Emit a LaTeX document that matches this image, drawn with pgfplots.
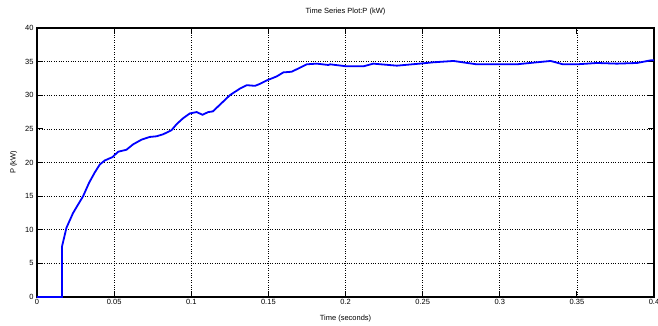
\documentclass[border=0pt]{standalone}
\usepackage{fontspec}
\setmainfont{Liberation Sans}
\usepackage{pgfplots}
\pgfplotsset{compat=1.18}
\begin{document}
\begin{tikzpicture}
\path[use as bounding box] (-37pt,-28pt) rectangle (621pt,297pt);
\begin{axis}[
  at={(0pt,0pt)}, anchor=south west,
  width=617pt, height=269pt, scale only axis,
  xmin=0, xmax=0.4, ymin=0, ymax=40,
  xtick={0,0.05,0.1,0.15,0.2,0.25,0.3,0.35,0.4},
  xticklabels={0,0.05,0.1,0.15,0.2,0.25,0.3,0.35,0.4},
  ytick={0,5,10,15,20,25,30,35,40},
  yticklabels={0,5,10,15,20,25,30,35,40},
  tick align=inside, major tick length=6pt,
  tick style={black, line width=1.2pt},
  axis line style={black, line width=1.2pt},
  grid=major, grid style={black, dotted, line width=0.6pt},
  ticklabel style={font=\fontsize{7.5}{8}\selectfont},
  xticklabel style={yshift=1pt},
  title={Time Series Plot:P (kW)},
  title style={font=\fontsize{7.5}{8}\selectfont, yshift=3pt},
  xlabel={Time (seconds)},
  xlabel style={font=\fontsize{7.5}{8}\selectfont, yshift=-3pt},
  ylabel={P (kW)},
  ylabel style={font=\fontsize{7.5}{8}\selectfont, yshift=1pt},
]
\addplot[color={rgb,255:red,0;green,0;blue,255}, line width=1.8pt] coordinates {
(0,0) (0.0162,0) (0.0162,7.5) (0.0191,10.3) (0.0234,12.5) (0.0299,15.0)
(0.0338,17.0) (0.0374,18.5) (0.0407,19.7) (0.0439,20.3) (0.0489,20.8)
(0.0526,21.6) (0.058,21.9) (0.0623,22.7) (0.0678,23.4) (0.0731,23.8)
(0.0775,23.9) (0.0818,24.2) (0.0872,24.8) (0.0905,25.7) (0.0948,26.6)
(0.0991,27.3) (0.1035,27.5) (0.1073,27.1) (0.111,27.5) (0.114,27.6)
(0.1186,28.6) (0.125,30.0) (0.1316,31.0) (0.136,31.5) (0.1413,31.4)
(0.1446,31.7) (0.1489,32.2) (0.1554,32.8) (0.1597,33.4) (0.1651,33.5)
(0.1705,34.1) (0.1748,34.6) (0.1813,34.7) (0.1889,34.5) (0.19,34.6)
(0.2008,34.3) (0.2116,34.3) (0.218,34.7) (0.2333,34.4) (0.248,34.7)
(0.257,34.9) (0.27,35.1) (0.285,34.6) (0.298,34.6) (0.311,34.6)
(0.324,34.9) (0.333,35.1) (0.341,34.6) (0.350,34.6) (0.363,34.8)
(0.376,34.7) (0.389,34.8) (0.398,35.2) (0.4,35.2)
};
\end{axis}
\end{tikzpicture}
\end{document}
